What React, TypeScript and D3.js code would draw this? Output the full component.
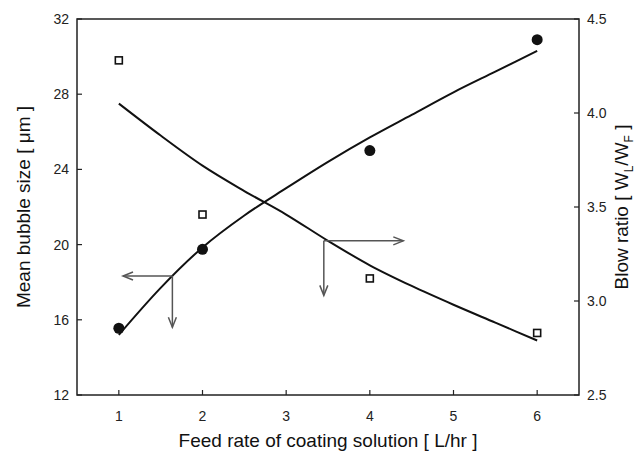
import React from "react";
import * as d3 from "d3";

// Measured points
const feedRates = [1, 2, 4, 6];
const bubbleSize = [15.55, 19.75, 25.0, 30.9]; // μm, left axis
const blowRatio = [4.28, 3.46, 3.12, 2.83]; // W_L/W_F, right axis

// Fitted trend lines read along the feed-rate axis
const fitX = [1, 1.5, 2, 2.5, 3, 3.5, 4, 4.5, 5, 5.5, 6];
const bubbleFit = [15.2, 17.7, 19.85, 21.55, 23.0, 24.4, 25.7, 26.9, 28.1, 29.2, 30.3];
const blowFit = [4.05, 3.88, 3.72, 3.585, 3.46, 3.32, 3.19, 3.08, 2.98, 2.885, 2.79];

// Axis ticks
const xTicks = [1, 2, 3, 4, 5, 6];
const leftTicks = [12, 16, 20, 24, 28, 32];
const rightTicks = [2.5, 3.0, 3.5, 4.0, 4.5];

// Annotation arrows: origin, then horizontal and vertical targets
const leftArrow = { x: 1.64, y: 18.33, toX: 1.05, toY: 15.6 };
const rightArrow = { x: 3.45, y: 3.32, toX: 4.4, toY: 3.03 };

const W = 644;
const H = 453;
const plot = { left: 77, right: 579, top: 19, bottom: 395 };
const FONT = "Liberation Sans, Arial, Helvetica, sans-serif";

export default function App() {
  const x = d3.scaleLinear().domain([0.5, 6.5]).range([plot.left, plot.right]);
  const yL = d3.scaleLinear().domain([12, 32]).range([plot.bottom, plot.top]);
  const yR = d3.scaleLinear().domain([2.5, 4.5]).range([plot.bottom, plot.top]);

  const lineL = d3
    .line<number>()
    .x((_, i) => x(fitX[i]))
    .y((d) => yL(d))
    .curve(d3.curveMonotoneX);
  const lineR = d3
    .line<number>()
    .x((_, i) => x(fitX[i]))
    .y((d) => yR(d))
    .curve(d3.curveMonotoneX);

  const tickLen = 5;
  const axisColor = "#222";
  const arrowColor = "#555";

  const arrowHead = (tx: number, ty: number, dir: "left" | "right" | "down") => {
    const L = 10;
    const h = 4;
    let d = "";
    if (dir === "left") d = `M${tx + L},${ty - h}L${tx},${ty}L${tx + L},${ty + h}`;
    if (dir === "right") d = `M${tx - L},${ty - h}L${tx},${ty}L${tx - L},${ty + h}`;
    if (dir === "down") d = `M${tx - h},${ty - L}L${tx},${ty}L${tx + h},${ty - L}`;
    return <path d={d} fill="none" stroke={arrowColor} strokeWidth={1.5} />;
  };

  const la = {
    x: x(leftArrow.x),
    y: yL(leftArrow.y),
    tx: x(leftArrow.toX),
    ty: yL(leftArrow.toY),
  };
  const ra = {
    x: x(rightArrow.x),
    y: yR(rightArrow.y),
    tx: x(rightArrow.toX),
    ty: yR(rightArrow.toY),
  };

  return (
    <svg
      width={W}
      height={H}
      style={{ position: "absolute", left: 0, top: 0, background: "#fff" }}
      fontFamily={FONT}
    >
      <rect width={W} height={H} fill="#fff" />

      {/* Frame */}
      <rect
        x={plot.left}
        y={plot.top}
        width={plot.right - plot.left}
        height={plot.bottom - plot.top}
        fill="none"
        stroke={axisColor}
        strokeWidth={1.5}
      />

      {/* X ticks */}
      {xTicks.map((t) => (
        <g key={`x${t}`}>
          <line x1={x(t)} x2={x(t)} y1={plot.bottom} y2={plot.bottom - tickLen} stroke={axisColor} strokeWidth={1.2} />
          <text x={x(t)} y={plot.bottom + 26} textAnchor="middle" fontSize={14} fill="#222">
            {t}
          </text>
        </g>
      ))}

      {/* Left ticks */}
      {leftTicks.map((t) => (
        <g key={`l${t}`}>
          <line x1={plot.left} x2={plot.left + tickLen} y1={yL(t)} y2={yL(t)} stroke={axisColor} strokeWidth={1.2} />
          <text x={plot.left - 8} y={yL(t) + 5} textAnchor="end" fontSize={14} fill="#222">
            {t}
          </text>
        </g>
      ))}

      {/* Right ticks */}
      {rightTicks.map((t) => (
        <g key={`r${t}`}>
          <line x1={plot.right} x2={plot.right - tickLen} y1={yR(t)} y2={yR(t)} stroke={axisColor} strokeWidth={1.2} />
          <text x={plot.right + 8} y={yR(t) + 5} textAnchor="start" fontSize={14} fill="#222">
            {t.toFixed(1)}
          </text>
        </g>
      ))}

      {/* Axis titles */}
      <text
        x={(plot.left + plot.right) / 2}
        y={447}
        textAnchor="middle"
        fontSize={19}
        fill="#111"
      >
        Feed rate of coating solution [ L/hr ]
      </text>
      <text
        transform={`translate(30,${(plot.top + plot.bottom) / 2}) rotate(-90)`}
        textAnchor="middle"
        fontSize={19}
        fill="#111"
      >
        Mean bubble size [ μm ]
      </text>
      <text
        transform={`translate(628,${(plot.top + plot.bottom) / 2}) rotate(-90)`}
        textAnchor="middle"
        fontSize={19}
        fill="#111"
      >
        Blow ratio [ W
        <tspan fontSize={12} dy={5}>L</tspan>
        <tspan dy={-5}>/W</tspan>
        <tspan fontSize={12} dy={5}>F</tspan>
        <tspan dy={-5}> ]</tspan>
      </text>

      {/* Trend lines */}
      <path d={lineL(bubbleFit) ?? ""} fill="none" stroke="#111" strokeWidth={2} />
      <path d={lineR(blowFit) ?? ""} fill="none" stroke="#111" strokeWidth={2} />

      {/* Bubble size points */}
      {feedRates.map((f, i) => (
        <circle key={`c${f}`} cx={x(f)} cy={yL(bubbleSize[i])} r={5.5} fill="#111" />
      ))}

      {/* Blow ratio points */}
      {feedRates.map((f, i) => (
        <rect
          key={`s${f}`}
          x={x(f) - 3.5}
          y={yR(blowRatio[i]) - 3.5}
          width={7}
          height={7}
          fill="#fff"
          stroke="#111"
          strokeWidth={1.6}
        />
      ))}

      {/* Arrow pointing to left axis */}
      <line x1={la.x} y1={la.y} x2={la.tx} y2={la.y} stroke={arrowColor} strokeWidth={1.5} />
      {arrowHead(la.tx, la.y, "left")}
      <line x1={la.x} y1={la.y} x2={la.x} y2={la.ty} stroke={arrowColor} strokeWidth={1.5} />
      {arrowHead(la.x, la.ty, "down")}

      {/* Arrow pointing to right axis */}
      <line x1={ra.x} y1={ra.y} x2={ra.tx} y2={ra.y} stroke={arrowColor} strokeWidth={1.5} />
      {arrowHead(ra.tx, ra.y, "right")}
      <line x1={ra.x} y1={ra.y} x2={ra.x} y2={ra.ty} stroke={arrowColor} strokeWidth={1.5} />
      {arrowHead(ra.x, ra.ty, "down")}
    </svg>
  );
}
